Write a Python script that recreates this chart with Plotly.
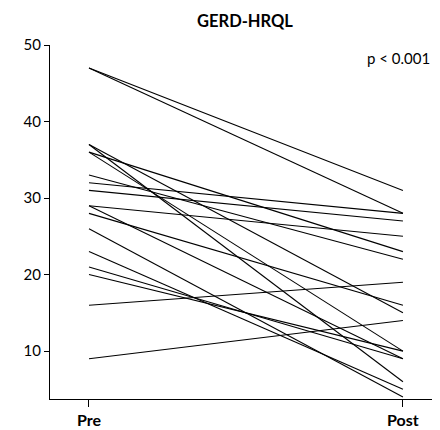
import plotly.graph_objects as go

categories = ["Pre", "Post"]
pre_values = [47, 47, 37, 37, 36, 36, 33, 32, 31, 29, 29, 28, 26, 23, 21, 20, 16, 9]
post_values = [31, 28, 15, 6, 23, 10, 22, 28, 27, 25, 9, 16, 4, 5, 9, 10, 19, 14]
y_ticks = [10, 20, 30, 40, 50]

FONT = "Lato, 'Open Sans', sans-serif"

# page has an 8px body margin; figure is sized to fill the rest
W, H = 432, 422
L, T, B, R = 42, 37, 31, 0
PW, PH = W - L - R, H - T - B

fig = go.Figure()
for p, q in zip(pre_values, post_values):
    fig.add_trace(go.Scatter(
        x=[0, 1], y=[p, q], mode="lines",
        line=dict(color="black", width=1.1),
        showlegend=False, hoverinfo="skip",
    ))

fig.update_layout(
    width=W, height=H,
    margin=dict(l=L, r=R, t=T, b=B),
    paper_bgcolor="white", plot_bgcolor="white",
    font=dict(family=FONT, color="black"),
    title=dict(text="<b>GERD-HRQL</b>", x=(245 - 8) / W, xanchor="center",
               y=1 - (21 - 8) / H, yanchor="middle",
               font=dict(size=16.5, family=FONT, color="black")),
    xaxis=dict(
        range=[-0.1242, 1.118], tickvals=[0, 1],
        ticktext=["<b>" + c + "</b>" for c in categories],
        showline=True, linecolor="black", linewidth=1.2,
        ticks="outside", ticklen=7, tickcolor="black", tickwidth=1,
        showgrid=False, zeroline=False,
        tickfont=dict(size=16, family=FONT, color="black"),
    ),
    yaxis=dict(
        range=[3.74, 50], tickvals=y_ticks,
        showline=True, linecolor="black", linewidth=1.2,
        ticks="outside", ticklen=5, tickcolor="black", tickwidth=1,
        showgrid=False, zeroline=False,
        tickfont=dict(size=15, family=FONT, color="black"),
    ),
    annotations=[dict(
        text="p < 0.001", xref="paper", yref="paper",
        x=(398 - 50) / PW, y=1 - (58 - 45) / PH,
        xanchor="center", yanchor="middle", showarrow=False,
        font=dict(size=15, family=FONT, color="black"),
    )],
)

fig.write_html("out.html")
